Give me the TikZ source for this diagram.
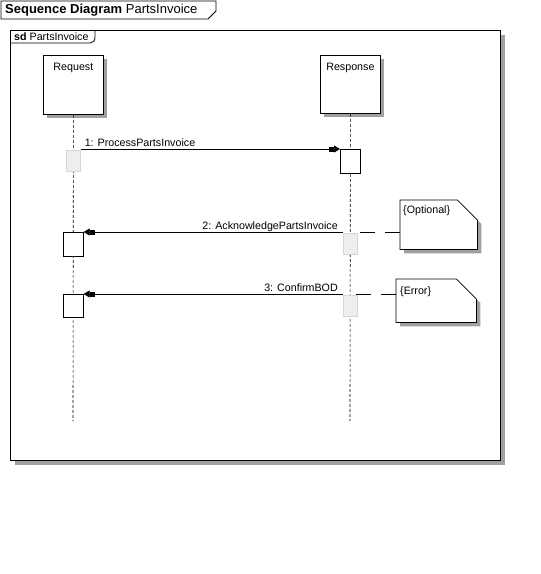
\documentclass[tikz,border=0pt]{standalone}
\usepackage{fontspec}
\setmainfont{Liberation Sans}
\usetikzlibrary{positioning,shadows,arrows.meta}
\definecolor{shade}{HTML}{A0A0A0}
\definecolor{actfill}{HTML}{EEEEEE}
\definecolor{actline}{HTML}{D6D6D6}

\begin{document}
\begin{tikzpicture}
  [x=1pt, y=-1pt,
   every node/.style={font=\fontsize{10.7}{12}\selectfont, inner sep=0pt},
   shadowed/.style={drop shadow={shadow xshift=4pt, shadow yshift=-4pt, fill=shade, opacity=1}},
   framebox/.style={draw, line width=1pt, fill=white, anchor=north west},
   headbox/.style={draw, line width=0.8pt, fill=white, anchor=north west, minimum width=60pt},
   active/.style={draw, line width=0.6pt, fill=white, anchor=north west, minimum width=20pt},
   passive/.style={draw=actline, line width=0.6pt, fill=actfill, anchor=north west, minimum width=14pt, minimum height=21pt},
   lifeline/.style={line width=0.6pt, dash pattern=on 3pt off 2pt},
   msg/.style={line width=0.7pt, -{Rectangle[length=5pt,width=4.5pt,sep=0pt]Triangle[length=6pt,width=7pt]}},
   noteline/.style={line width=0.7pt},
   link/.style={line width=0.7pt, dash pattern=on 15pt off 10pt}]
  \useasboundingbox (0,0) rectangle (541,574);

  % title tab
  \node[anchor=west] (title) at (5,10) {\fontsize{13}{15}\selectfont\textbf{Sequence Diagram} PartsInvoice};
  \draw[line width=0.8pt] (1,1) -- (216,1) -- (216,11) -- (208,19) -- (1,19) -- cycle;

  % frame
  \node[framebox, shadowed, minimum width=490pt, minimum height=430pt] (frame) at (10,30) {};
  \draw[line width=0.8pt] (frame.north west) ++(85,0) -- ++(0,7)
    .. controls (95,41) and (93,43) .. (90,43) -- (10,43);
  \node[anchor=base west] (sdname) at (14,40.5) {\textbf{sd} PartsInvoice};

  % lifelines
  \node[headbox, shadowed, minimum height=59pt] (reqhead) at (43,55) {};
  \node[headbox, shadowed, minimum height=58pt] (resphead) at (320,55) {};
  \node[below=8.3pt of reqhead.north] (reqname) {Request};
  \node[below=8.3pt of resphead.north] (respname) {Response};
  \coordinate (reqend) at (73,421);
  \coordinate (respend) at (350,421);
  \draw[lifeline] (reqhead.south) -- (reqend);
  \draw[lifeline] (resphead.south) -- (respend);

  % activations
  \node[passive] (req1) at (66,150) {};
  \node[active, minimum height=24pt] (resp1) at (340,149) {};
  \node[active, minimum height=24pt] (req2) at (63,232) {};
  \node[passive] (resp2) at (343,233) {};
  \node[active, minimum height=23pt] (req3) at (63,294) {};
  \node[passive] (resp3) at (343,295) {};

  % messages
  \draw[msg] (req1.east |- resp1.north) -- (resp1.north west);
  \draw[msg] (resp2.west |- req2.north) -- (req2.north east);
  \draw[msg] (resp3.west |- req3.north) -- (req3.north east);
  \node[anchor=base west] (lbl1) at ([xshift=4pt, yshift=2.5pt]req1.east |- resp1.north) {1: ProcessPartsInvoice};
  \node[anchor=base east] (lbl2) at ([xshift=-5pt, yshift=2.5pt]resp2.west |- req2.north) {2: AcknowledgePartsInvoice};
  \node[anchor=base east] (lbl3) at ([xshift=-5pt, yshift=2.5pt]resp3.west |- req3.north) {3: ConfirmBOD};

  % notes
  \node[anchor=north west, minimum width=77pt, minimum height=49pt] (optnote) at (400,200) {};
  \node[anchor=north west, minimum width=80pt, minimum height=43pt] (errnote) at (396,279) {};
  \foreach \n in {optnote, errnote}
    \draw[noteline, shadowed, fill=white] (\n.north west) -- ([xshift=-20pt]\n.north east)
      -- ([yshift=-20pt]\n.north east) -- (\n.south east) -- (\n.south west) -- cycle;
  \node[anchor=base west] (opttext) at ([xshift=3pt, yshift=-13.5pt]optnote.north west) {\{Optional\}};
  \node[anchor=base west] (errtext) at ([xshift=4pt, yshift=-15pt]errnote.north west) {\{Error\}};

  % note links
  \draw[link] (optnote.west |- req2.north) -- (resp2.north |- req2.north);
  \draw[link] (errnote.west |- req3.north) -- (resp3.north |- req3.north);
\end{tikzpicture}
\end{document}
